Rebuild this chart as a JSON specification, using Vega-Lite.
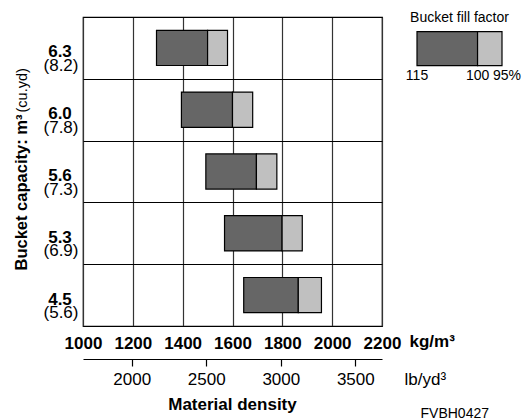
{
  "$schema": "https://vega.github.io/schema/vega-lite/v6.json",
  "autosize": {"type": "pad"},
  "padding": {"left": 12, "top": 7, "right": 0, "bottom": 0},
  "background": "white",
  "config": {
    "font": "Liberation Sans",
    "view": {"stroke": null},
    "axis": {"labelColor": "black", "titleColor": "black", "labelFont": "Liberation Sans", "titleFont": "Liberation Sans"},
    "title": {"font": "Liberation Sans", "color": "black"}
  },
  "datasets": {
    "buckets": [
      {"m3": "6.3", "yd": "(8.2)", "d115": 1295, "d100": 1500, "d95": 1580},
      {"m3": "6.0", "yd": "(7.8)", "d115": 1395, "d100": 1600, "d95": 1681},
      {"m3": "5.6", "yd": "(7.3)", "d115": 1493, "d100": 1696, "d95": 1778},
      {"m3": "5.3", "yd": "(6.9)", "d115": 1568, "d100": 1799, "d95": 1880},
      {"m3": "4.5", "yd": "(5.6)", "d115": 1645, "d100": 1864, "d95": 1957}
    ],
    "lb": [{"lb": 2000}, {"lb": 2500}, {"lb": 3000}, {"lb": 3500}],
    "legendBar": [
      {"part": "115–100", "from": 115, "to": 100},
      {"part": "100–95", "from": 100, "to": 95}
    ],
    "legendLabels": [
      {"v": 115, "t": "115"},
      {"v": 100, "t": "100"}
    ],
    "legendEnd": [
      {"v": 95, "t": "95%"}
    ]
  },
  "title": {"text": "FVBH0427", "orient": "bottom", "anchor": "end", "fontSize": 14, "fontWeight": "normal", "offset": -7, "dx": -32},
  "bounds": "flush",
  "spacing": 35,
  "hconcat": [
    {
      "width": 299,
      "height": 309,
      "view": {"stroke": "black", "strokeWidth": 1.2},
      "title": {"text": "Material density", "orient": "bottom", "anchor": "middle", "fontSize": 17, "fontWeight": "bold", "offset": 10},
      "layer": [
        {
          "data": {"name": "buckets"},
          "layer": [
            {
              "mark": {"type": "bar", "fill": "#666666", "stroke": "black", "strokeWidth": 1.2, "height": {"band": 0.57}},
              "encoding": {
                "y": {
                  "field": "m3", "type": "nominal", "sort": null,
                  "scale": {"paddingInner": 0, "paddingOuter": 0},
                  "axis": {
                    "orient": "left", "grid": true, "tickBand": "extent", "gridColor": "black", "gridWidth": 1.2,
                    "domain": false, "ticks": false, "tickSize": 0,
                    "labelAlign": "center", "labelPadding": 23.5, "labelFontSize": 17, "labelFontWeight": "bold",
                    "labelBaseline": "middle", "labelOffset": 4,
                    "title": "Bucket capacity: m³", "titleFontSize": 16.5, "titleFontWeight": "bold",
                    "titleAngle": -90, "titleAlign": "left", "titleBaseline": "alphabetic", "titleX": -57, "titleY": 253
                  }
                },
                "x": {
                  "field": "d115", "type": "quantitative",
                  "scale": {"domain": [1000, 2200], "nice": false, "zero": false},
                  "axis": {
                    "orient": "bottom", "values": [1000, 1200, 1400, 1600, 1800, 2000, 2200], "format": "d",
                    "grid": true, "gridColor": "#333333", "gridWidth": 1.2,
                    "domain": false, "ticks": false, "tickSize": 0,
                    "labelFontSize": 17, "labelFontWeight": "bold", "labelPadding": 9, "labelFlush": false, "labelOverlap": false,
                    "title": "kg/m³", "titleFontSize": 17, "titleFontWeight": "bold",
                    "titleAlign": "left", "titleBaseline": "middle", "titleX": 326, "titleY": 15
                  }
                },
                "x2": {"field": "d100"}
              }
            },
            {
              "mark": {"type": "bar", "fill": "#c0c0c0", "stroke": "black", "strokeWidth": 1.2, "height": {"band": 0.57}},
              "encoding": {
                "y": {
                  "field": "yd", "type": "nominal", "sort": null,
                  "scale": {"paddingInner": 0, "paddingOuter": 0},
                  "axis": {
                    "orient": "left", "grid": false,
                    "domain": false, "ticks": false, "tickSize": 0,
                    "labelAlign": "center", "labelPadding": 22.5, "labelFontSize": 17, "labelFontWeight": "normal",
                    "labelBaseline": "middle", "labelOffset": 18,
                    "title": "(cu.yd)", "titleFontSize": 14.5, "titleFontWeight": "normal",
                    "titleAngle": -90, "titleAlign": "left", "titleBaseline": "alphabetic", "titleX": -57, "titleY": 95
                  }
                },
                "x": {
                  "field": "d100", "type": "quantitative",
                  "scale": {"domain": [1000, 2200], "nice": false, "zero": false},
                  "axis": {
                    "orient": "bottom", "values": [1000, 1200, 1400, 1600, 1800, 2000, 2200], "format": "d",
                    "grid": true, "gridColor": "#333333", "gridWidth": 1.2,
                    "domain": false, "ticks": false, "tickSize": 0,
                    "labelFontSize": 17, "labelFontWeight": "bold", "labelPadding": 9, "labelFlush": false, "labelOverlap": false,
                    "title": "kg/m³", "titleFontSize": 17, "titleFontWeight": "bold",
                    "titleAlign": "left", "titleBaseline": "middle", "titleX": 326, "titleY": 15
                  }
                },
                "x2": {"field": "d95"}
              }
            }
          ],
          "resolve": {"scale": {"y": "independent"}}
        },
        {
          "data": {"name": "lb"},
          "mark": {"type": "tick", "opacity": 0},
          "encoding": {
            "x": {
              "field": "lb", "type": "quantitative",
              "scale": {"domain": [1673, 3679], "nice": false, "zero": false},
              "axis": {
                "orient": "bottom", "offset": 33, "values": [2000, 2500, 3000, 3500], "format": "d",
                "grid": false, "domain": true, "domainColor": "black", "domainWidth": 1.2,
                "ticks": true, "tickColor": "black", "tickSize": 7, "tickWidth": 1.2,
                "labelFontSize": 17, "labelFontWeight": "normal", "labelPadding": 5, "labelFlush": false,
                "title": "lb/yd³", "titleFontSize": 17, "titleFontWeight": "normal",
                "titleAlign": "left", "titleBaseline": "middle", "titleX": 321, "titleY": 20
              }
            }
          }
        }
      ],
      "resolve": {"scale": {"x": "independent", "y": "independent"}}
    },
    {
      "width": 85,
      "height": 34,
      "view": {"stroke": null},
      "title": {"text": "Bucket fill factor", "fontSize": 14, "fontWeight": "normal", "anchor": "middle", "offset": -3, "dy": 5},
      "layer": [
        {
          "data": {"name": "legendBar"},
          "mark": {"type": "bar", "stroke": "black", "strokeWidth": 1.2, "height": 34, "yOffset": 14.7},
          "encoding": {
            "x": {"field": "from", "type": "quantitative", "scale": {"type": "pow", "exponent": -1, "domain": [115, 95], "nice": false, "zero": false}, "axis": null},
            "x2": {"field": "to"},
            "color": {"field": "part", "type": "nominal", "scale": {"domain": ["115–100", "100–95"], "range": ["#666666", "#c0c0c0"]}, "legend": null}
          }
        },
        {
          "data": {"name": "legendLabels"},
          "mark": {"type": "text", "fontSize": 14, "baseline": "middle", "align": "center", "dy": 42, "color": "black"},
          "encoding": {
            "x": {"field": "v", "type": "quantitative"},
            "text": {"field": "t"}
          }
        },
        {
          "data": {"name": "legendEnd"},
          "mark": {"type": "text", "fontSize": 14, "baseline": "middle", "align": "left", "dx": -9, "dy": 42, "color": "black"},
          "encoding": {
            "x": {"field": "v", "type": "quantitative"},
            "text": {"field": "t"}
          }
        }
      ]
    }
  ]
}
